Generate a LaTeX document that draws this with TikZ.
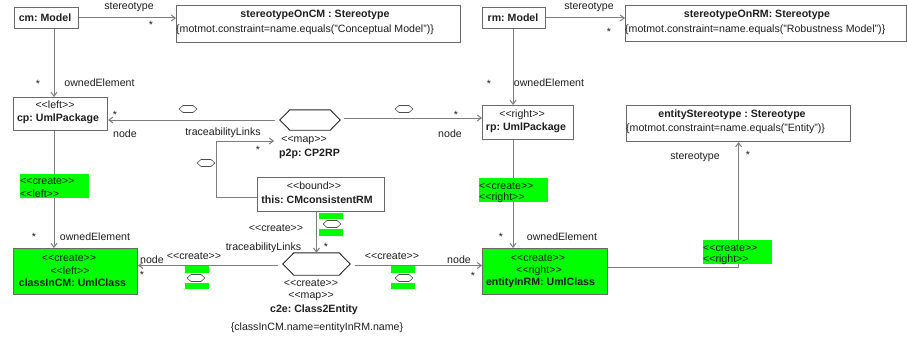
\documentclass[tikz,border=0pt]{standalone}
\usepackage{fontspec}
\setmainfont{Liberation Sans}
\usetikzlibrary{arrows.meta,calc}
\definecolor{lc}{RGB}{125,125,125}
\definecolor{bc}{RGB}{105,105,105}
\definecolor{gr}{RGB}{0,255,0}
\definecolor{tc}{RGB}{30,30,30}
\newcommand\LL{<\kern0pt<}
\newcommand\GG{>\kern0pt>}
\frenchspacing
\begin{document}
\begin{tikzpicture}[x=1pt,y=-1pt,
  font=\fontsize{10.6}{12}\selectfont,
  box/.style={draw=bc, line width=1.1pt, inner sep=0, anchor=north west},
  gbox/.style={box, fill=gr},
  txt/.style={inner sep=0, text=tc},
  bold/.style={txt, font=\fontsize{10.6}{12}\selectfont\bfseries},
  gfill/.style={fill=gr, inner sep=0, anchor=north west},
  conn/.style={draw=lc, line width=1pt, -{Straight Barb[length=4pt,width=6pt]}},
  plain/.style={draw=lc, line width=1pt},
  hexline/.style={draw=black!85, line width=0.9pt},
  minihex/.pic={\draw[draw=black!70, line width=0.6pt] (-9,0) -- (-5,-3.5) -- (5,-3.5) -- (9,0) -- (5,3.5) -- (-5,3.5) -- cycle;}
]
\useasboundingbox[fill=white] (0,0) rectangle (907,337);

% ---------- boxes ----------
\node[box, minimum width=64pt, minimum height=21pt] (cm) at (14,7) {};
\node[box, minimum width=284pt, minimum height=37pt] (scm) at (176,5) {};
\node[box, minimum width=63pt, minimum height=21pt] (rm) at (482,7) {};
\node[box, minimum width=281pt, minimum height=36pt] (srm) at (625,5) {};
\node[box, minimum width=94pt, minimum height=33pt] (cp) at (13,97) {};
\node[box, minimum width=91pt, minimum height=34pt] (rp) at (482,105) {};
\node[box, minimum width=224pt, minimum height=36pt] (est) at (626,105) {};
\node[box, minimum width=127pt, minimum height=34pt] (this) at (257,177) {};
\node[gbox, minimum width=124pt, minimum height=46pt] (cin) at (13,248) {};
\node[gbox, minimum width=125pt, minimum height=46pt] (ein) at (482,248) {};

% ---------- box texts ----------
\node[bold] (cmT) at (45,18) {cm: Model};
\node[bold] (scmT) at (315,15) {stereotypeOnCM : Stereotype};
\node[txt, anchor=west] (scmC) at (176,30) {\{motmot.constraint=name.equals("Conceptual Model")\}};
\node[bold] (rmT) at (513,18) {rm: Model};
\node[bold] (srmT) at (757,15) {stereotypeOnRM: Stereotype};
\node[txt, anchor=west] (srmC) at (625,30) {\{motmot.constraint=name.equals("Robustness Model")\}};
\node[txt] (cpS) at (55,105) {\LL left\GG};
\node[bold] (cpT) at (58,119) {cp: UmlPackage};
\node[txt] (rpS) at (522,115) {\LL right\GG};
\node[bold] (rpT) at (526,128) {rp: UmlPackage};
\node[bold] (estT) at (732,115) {entityStereotype : Stereotype};
\node[txt, anchor=west] (estC) at (626,129) {\{motmot.constraint=name.equals("Entity")\}};
\node[txt] (thisS) at (314,186) {\LL bound\GG};
\node[bold] (thisT) at (317,200) {this: CMconsistentRM};
\node[txt] (cinS1) at (69,258) {\LL create\GG};
\node[txt] (cinS2) at (70,271) {\LL left\GG};
\node[bold] (cinT) at (72.5,283) {classInCM: UmlClass};
\node[txt] (einS1) at (538,258) {\LL create\GG};
\node[txt] (einS2) at (539,271) {\LL right\GG};
\node[bold] (einT) at (540.5,283) {entityInRM: UmlClass};

% ---------- hexagons ----------
\node[minimum width=60pt, minimum height=20pt, inner sep=0] (p2p) at (310,120) {};
\draw[hexline] (p2p.west) -- ($(p2p.north west)+(10,0)$) -- ($(p2p.north east)+(-10,0)$) -- (p2p.east) -- ($(p2p.south east)+(-10,0)$) -- ($(p2p.south west)+(10,0)$) -- cycle;
\node[txt] (p2pS) at (304,141) {\LL map\GG};
\node[bold] (p2pT) at (309.5,154) {p2p: CP2RP};

\node[minimum width=67pt, minimum height=22pt, inner sep=0] (c2e) at (316.5,264) {};
\draw[hexline] (c2e.west) -- ($(c2e.north west)+(11,0)$) -- ($(c2e.north east)+(-11,0)$) -- (c2e.east) -- ($(c2e.south east)+(-11,0)$) -- ($(c2e.south west)+(11,0)$) -- cycle;
\node[txt] (c2eS1) at (311,283) {\LL create\GG};
\node[txt] (c2eS2) at (311,297) {\LL map\GG};
\node[bold] (c2eT) at (314,310) {c2e: Class2Entity};
\node[txt] (c2eC) at (317,328) {\{classInCM.name=entityInRM.name\}};

% ---------- connectors ----------
\coordinate (lx) at (54,0);
\coordinate (rx) at (513,0);
\draw[conn] (cm.east |- cmT) -- (cmT -| scm.west);
\draw[conn] (rm.east |- rmT) -- (rmT -| srm.west);
\draw[conn] (lx |- cm.south) -- (lx |- cp.north);
\draw[conn] (rx |- rm.south) -- (rx |- rp.north);
\draw[conn] (lx |- cp.south) -- (lx |- cin.north);
\draw[conn] (rx |- rp.south) -- (rx |- ein.north);
\draw[conn] ([xshift=-5pt]p2p.west) -- (p2p.west -| cp.east);
\draw[conn] ([xshift=4pt,yshift=2pt]p2p.east) -- ([yshift=2pt]p2p.east -| rp.west);
\draw[conn] ([yshift=-3pt]this.west) -- ++(-41,0) |- ([xshift=-7pt]p2pS.west);
\draw[conn] (c2e.north |- this.south) -- (c2e.north);
\draw[conn] ([xshift=-5pt,yshift=-1.5pt]c2e.west) -- ([yshift=-1.5pt]c2e.west -| cin.east);
\draw[conn] ([xshift=5pt,yshift=-1.5pt]c2e.east) -- ([yshift=-1.5pt]c2e.east -| ein.west);
\draw[conn] ([yshift=4pt]ein.east) -| (est.south);

% ---------- connector labels ----------
\node[txt] (l1) at (129,7) {stereotype};
\node[txt] (l2) at (151,25) {*};
\node[txt] (l3) at (589,7) {stereotype};
\node[txt] (l4) at (609,32) {*};
\node[txt] (l5) at (38,84) {*};
\node[txt] (l6) at (99.5,83) {ownedElement};
\node[txt] (l7) at (489,84) {*};
\node[txt] (l8) at (549,83) {ownedElement};
\node[txt] (l9) at (115,115) {*};
\node[txt] (l10) at (125,134) {node};
\node[txt] (l11) at (223,133) {traceabilityLinks};
\node[txt] (l12) at (456,115) {*};
\node[txt] (l13) at (450,134) {node};
\node[txt] (l14) at (258,150) {*};
\node[txt] (l15) at (34,237) {*};
\node[txt] (l16) at (95,237) {ownedElement};
\node[txt] (l17) at (501,237) {*};
\node[txt] (l18) at (562,237) {ownedElement};
\node[txt] (l19) at (276,228) {\LL create\GG};
\node[txt] (l20) at (326,247) {*};
\node[txt] (l21) at (263.5,248) {traceabilityLinks};
\node[txt] (l22) at (152,260) {node};
\node[txt] (l23) at (142,275) {*};
\node[txt] (l24) at (194,256) {\LL create\GG};
\node[txt] (l25) at (392,256) {\LL create\GG};
\node[txt] (l26) at (459,260) {node};
\node[txt] (l27) at (473,276) {*};
\node[txt] (l28) at (695,157) {stereotype};
\node[txt] (l29) at (748,155) {*};

% ---------- green stereotype labels ----------
\node[gfill, minimum width=69pt, minimum height=24pt] (g1) at (20,174) {};
\node[txt, anchor=west] (g1a) at (20,181) {\LL create\GG};
\node[txt, anchor=west] (g1b) at (20,194) {\LL left\GG};
\node[gfill, minimum width=69pt, minimum height=24pt] (g2) at (479,178) {};
\node[txt, anchor=west] (g2a) at (479,186) {\LL create\GG};
\node[txt, anchor=west] (g2b) at (479,198) {\LL right\GG};
\node[gfill, minimum width=69pt, minimum height=24pt] (g3) at (703,240) {};
\node[txt, anchor=west] (g3a) at (703,248) {\LL create\GG};
\node[txt, anchor=west] (g3b) at (703,260) {\LL right\GG};

% ---------- small markers ----------
\pic at (188,109) {minihex};
\pic at (404,109) {minihex};
\pic at (206,163) {minihex};
% green marker on this -> c2e
\node[gfill, minimum width=24pt, minimum height=6pt] (m1a) at (319,213) {};
\pic at (332,224) {minihex};
\node[gfill, minimum width=24pt, minimum height=7pt] (m1b) at (319,229) {};
% green marker on c2e -> classInCM
\node[gfill, minimum width=24pt, minimum height=7pt] (m2a) at (185,266) {};
\pic at (196,278) {minihex};
\node[gfill, minimum width=24pt, minimum height=6pt] (m2b) at (185,283) {};
% green marker on c2e -> entityInRM
\node[gfill, minimum width=24pt, minimum height=7pt] (m3a) at (391,266) {};
\pic at (404,278) {minihex};
\node[gfill, minimum width=24pt, minimum height=6pt] (m3b) at (391,283) {};
\end{tikzpicture}
\end{document}
